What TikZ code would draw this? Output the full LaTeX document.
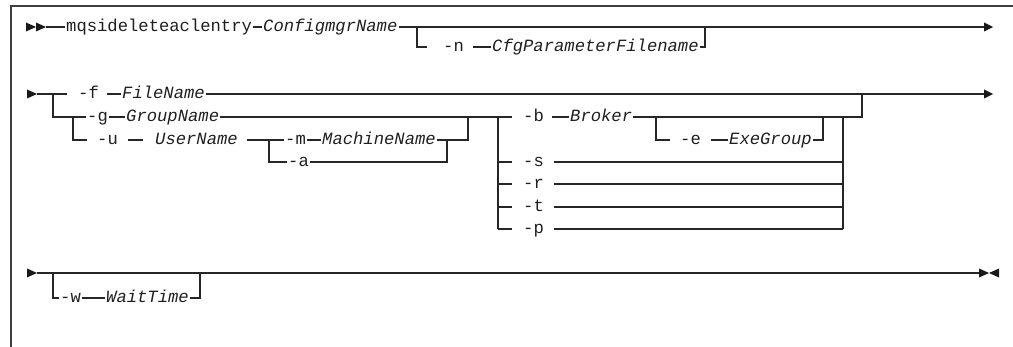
\documentclass[tikz,border=0pt]{standalone}
\usepackage{fontspec}
\newfontfamily\mono{Liberation Mono}
\begin{document}
\begin{tikzpicture}[x=1pt,y=-1pt,
  ln/.style={draw=black!85, line width=1.2pt},
  frame/.style={draw=black!75, line width=1.6pt},
  txt/.style={anchor=base west, inner sep=0pt, text=black!88, font=\mono\fontsize{17.2}{20}\selectfont},
  var/.style={txt, font=\mono\itshape\fontsize{17.2}{20}\selectfont},
  tipfill/.style={fill=black!90}]
\useasboundingbox (0,0) rectangle (1013,347);
% frame
\coordinate (fa) at (11,347);
\coordinate (fb) at (11,6);
\coordinate (fc) at (1013,6);
\draw[frame] (fa) -- (fb) -- (fc);

% ---------------- Row 1 ----------------
\fill[tipfill] (26,22.5) -- (36,27) -- (26,31.5) -- cycle;
\fill[tipfill] (36,22.5) -- (46,27) -- (36,31.5) -- cycle;
\coordinate (s1) at (46,27);
\node[txt] (cmd) at (66,32) {mqsideleteaclentry};
\node[var] (cfg) at (263,32) {ConfigmgrName};
\coordinate (e1) at (984,27);
\draw[ln] (s1) -- ([xshift=-1pt]cmd.west |- s1);
\draw[ln] ([xshift=1pt]cmd.east |- s1) -- ([xshift=-1pt]cfg.west |- s1);
\draw[ln] ([xshift=1pt]cfg.east |- s1) -- (e1);
\fill[tipfill] (984,22.5) -- (993,27) -- (984,31.5) -- cycle;
% -n branch
\coordinate (b1) at (417,27);
\coordinate (b1d) at (417,47);
\coordinate (b1u) at (705,27);
\node[txt] (optn) at (443,52) {-n};
\node[var] (cpf) at (492,52) {CfgParameterFilename};
\draw[ln] (b1) |- ([xshift=-16pt]optn.west |- b1d);
\draw[ln] ([xshift=9pt]optn.east |- b1d) -- ([xshift=-1pt]cpf.west |- b1d);
\draw[ln] ([xshift=1pt]cpf.east |- b1d) -| (b1u);

% ---------------- Row 2 ----------------
\fill[tipfill] (27,89.5) -- (37,94) -- (27,98.5) -- cycle;
\coordinate (s2) at (37,94);
\coordinate (j2) at (53,94);
\coordinate (rg) at (53,117);
\node[txt] (optf) at (78,99) {-f};
\node[var] (fn) at (122,99) {FileName};
\coordinate (e2) at (984,94);
\draw[ln] (s2) -- ([xshift=-11pt]optf.west |- s2);
\draw[ln] ([xshift=8pt]optf.east |- s2) -- ([xshift=-1pt]fn.west |- s2);
\draw[ln] ([xshift=1pt]fn.east |- s2) -- (e2);
\fill[tipfill] (984,89.5) -- (993,94) -- (984,98.5) -- cycle;
% -g
\node[txt] (optg) at (87,122) {-g};
\node[var] (gn) at (126,122) {GroupName};
\coordinate (bj) at (498,117);
\draw[ln] (j2) |- ([xshift=-1pt]optg.west |- rg);
\draw[ln] ([xshift=1pt]optg.east |- rg) -- ([xshift=-1pt]gn.west |- rg);
\draw[ln] ([xshift=1pt]gn.east |- rg) -- (bj);
% -u
\coordinate (ju) at (73,117);
\coordinate (ru) at (73,140);
\node[txt] (optu) at (97,145) {-u};
\node[var] (un) at (155,145) {UserName};
\coordinate (jm) at (269,140);
\draw[ln] (ju) |- ([xshift=-10pt]optu.west |- ru);
\draw[ln] ([xshift=10pt]optu.east |- ru) -- ([xshift=-12pt]un.west |- ru);
\draw[ln] ([xshift=9pt]un.east |- ru) -- (jm);
% -m / -a
\coordinate (ra) at (269,162);
\node[txt] (optm) at (285,145) {-m};
\node[var] (mn) at (322,145) {MachineName};
\node[txt] (opta) at (288,167) {-a};
\coordinate (jmr) at (468,140);
\coordinate (jmt) at (468,117);
\coordinate (jar) at (447,162);
\coordinate (jat) at (447,140);
\draw[ln] (jm) -- ([xshift=-1pt]optm.west |- jm);
\draw[ln] ([xshift=1pt]optm.east |- jm) -- ([xshift=-1pt]mn.west |- jm);
\draw[ln] ([xshift=1pt]mn.east |- jm) -- (jmr) -- (jmt);
\draw[ln] (jm) |- ([xshift=-1pt]opta.west |- ra);
\draw[ln] ([xshift=1pt]opta.east |- ra) -- (jar) -- (jat);
% b choices
\coordinate (bjb) at (498,229);
\draw[ln] (bj) -- (bjb);
\coordinate (rr) at (843,117);
\coordinate (rrb) at (843,229);
\draw[ln] (rr) -- (rrb);
\node[txt] (optb) at (523,122) {-b};
\node[var] (bk) at (570,122) {Broker};
\coordinate (bo) at (862,117);
\draw[ln] (bj) -- ([xshift=-11pt]optb.west |- bj);
\draw[ln] ([xshift=8pt]optb.east |- bj) -- ([xshift=-1pt]bk.west |- bj);
\draw[ln] ([xshift=1pt]bk.east |- bj) -- (bo) -- (bo |- s2);
% -e
\coordinate (be) at (656,117);
\coordinate (bed) at (656,140);
\node[txt] (opte) at (680,145) {-e};
\node[var] (eg) at (729,145) {ExeGroup};
\coordinate (ber) at (823,140);
\coordinate (bert) at (823,117);
\draw[ln] (be) |- ([xshift=-10pt]opte.west |- bed);
\draw[ln] ([xshift=10pt]opte.east |- bed) -- ([xshift=-1pt]eg.west |- bed);
\draw[ln] ([xshift=1pt]eg.east |- bed) -- (ber) -- (bert);
% -s -r -t -p
\foreach \nm/\yy in {s/162, r/184, t/207, p/229}{
  \coordinate (l\nm) at (498,\yy);
  \node[txt] (opt\nm) at (523,\yy+5) {-\nm};
  \coordinate (q\nm) at (843,\yy);
  \draw[ln] (l\nm) -- ([xshift=-11pt]opt\nm.west |- l\nm);
  \draw[ln] ([xshift=10pt]opt\nm.east |- l\nm) -- (q\nm);
}

% ---------------- Row 3 ----------------
\fill[tipfill] (27,268.5) -- (37,273) -- (27,277.5) -- cycle;
\coordinate (s3) at (37,273);
\coordinate (e3) at (979,273);
\draw[ln] (s3) -- (e3);
\fill[tipfill] (979,268.5) -- (989,273) -- (979,277.5) -- cycle;
\fill[tipfill] (999,268.5) -- (989,273) -- (999,277.5) -- cycle;
\coordinate (w1) at (53,273);
\coordinate (w1d) at (53,298);
\coordinate (w2) at (200,273);
\node[txt] (optw) at (60,303) {-w};
\node[var] (wt) at (106,303) {WaitTime};
\draw[ln] (w1) |- ([xshift=-1pt]optw.west |- w1d);
\draw[ln] ([xshift=1pt]optw.east |- w1d) -- ([xshift=-1pt]wt.west |- w1d);
\draw[ln] ([xshift=1pt]wt.east |- w1d) -| (w2);
\end{tikzpicture}
\end{document}
